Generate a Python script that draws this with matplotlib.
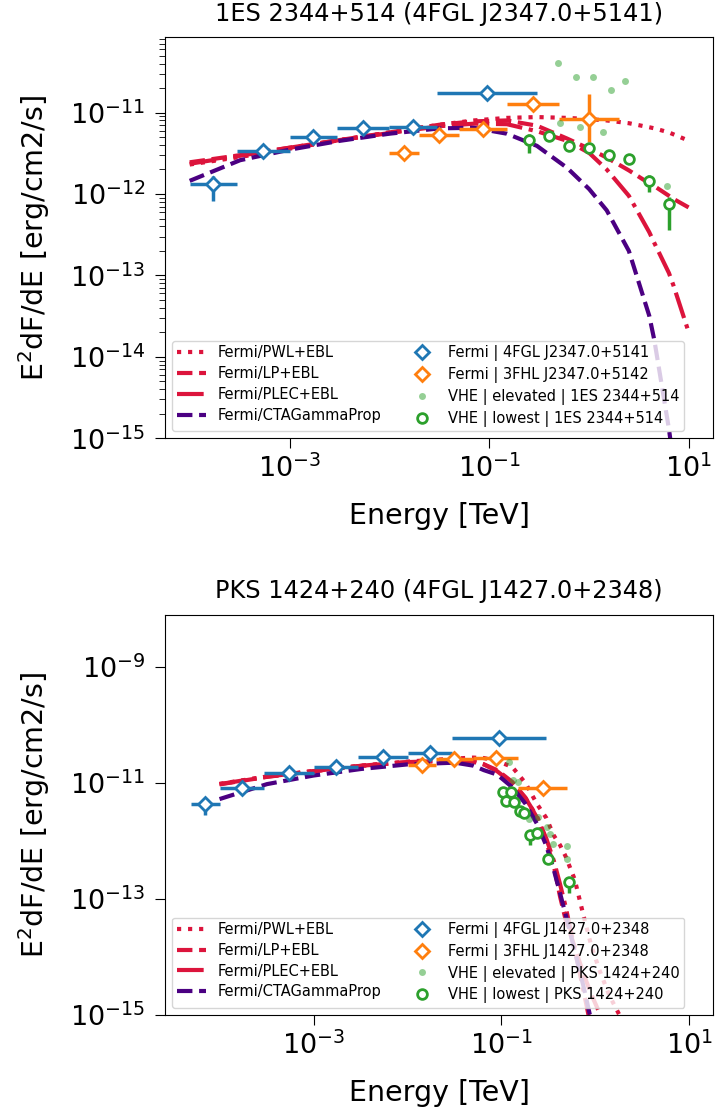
import numpy as np
import matplotlib.pyplot as plt
from matplotlib.ticker import FixedLocator, NullLocator, LogLocator

# ---------------- top panel: 1ES 2344+514 ----------------
t_title = "1ES 2344+514 (4FGL J2347.0+5141)"

t_fgl_e = [1.73e-4, 5.48e-4, 1.73e-3, 5.48e-3, 1.73e-2, 9.49e-2]
t_fgl_elo = [1e-4, 3e-4, 1e-3, 3e-3, 1e-2, 3e-2]
t_fgl_ehi = [3e-4, 1e-3, 3e-3, 1e-2, 3e-2, 3e-1]
t_fgl_f = [1.33e-12, 3.42e-12, 5.0e-12, 6.45e-12, 6.7e-12, 1.75e-11]
t_fgl_flo = [8.3e-13, 3.1e-12, 4.6e-12, 6.0e-12, 6.2e-12, 1.6e-11]
t_fgl_fhi = [1.64e-12, 3.7e-12, 5.4e-12, 6.9e-12, 7.2e-12, 1.9e-11]

t_fhl_e = [0.0141, 0.0316, 0.0866, 0.274, 1.0]
t_fhl_elo = [0.01, 0.02, 0.05, 0.15, 0.5]
t_fhl_ehi = [0.02, 0.05, 0.15, 0.5, 2.0]
t_fhl_f = [3.2e-12, 5.3e-12, 6.25e-12, 1.29e-11, 8.4e-12]
t_fhl_flo = [2.9e-12, 4.8e-12, 5.7e-12, 1.15e-11, 4.4e-12]
t_fhl_fhi = [3.5e-12, 5.8e-12, 6.8e-12, 1.45e-11, 1.7e-11]

t_elev_e = [0.485, 0.513, 0.741, 0.813, 1.087, 1.37, 1.66, 2.31, 6.03]
t_elev_f = [4.04e-11, 7.5e-12, 2.72e-11, 6.6e-12, 2.72e-11, 5.7e-12, 1.9e-11, 2.47e-11, 1.24e-12]

t_low_e = [0.249, 0.394, 0.635, 0.99, 1.57, 2.49, 3.94, 6.25]
t_low_f = [4.63e-12, 5.2e-12, 3.83e-12, 3.66e-12, 3.03e-12, 2.68e-12, 1.43e-12, 7.6e-13]
t_low_flo = [3.2e-12, 4.8e-12, 3.5e-12, 3.35e-12, 2.75e-12, 2.45e-12, 1.07e-12, 3.6e-13]
t_low_fhi = [5.4e-12, 5.6e-12, 4.15e-12, 3.95e-12, 3.3e-12, 2.9e-12, 1.72e-12, 9.3e-13]

t_mod_e = [1e-4, 3.2e-4, 1e-3, 3.2e-3, 1e-2, 3.2e-2, 0.07, 0.15, 0.3, 0.6,
           1.0, 1.5, 2.5, 4.0, 4.5, 6.3, 7.0, 10.0]
t_pwl = [2.3e-12, 2.85e-12, 3.6e-12, 4.6e-12, 5.7e-12, 7.1e-12, 8.0e-12, 8.6e-12, 8.8e-12, 8.6e-12,
         8.3e-12, 8.0e-12, 7.4e-12, 6.6e-12, 6.4e-12, 5.7e-12, 5.4e-12, 4.5e-12]
t_lp = [2.45e-12, 3.0e-12, 3.7e-12, 4.6e-12, 5.7e-12, 7.1e-12, 7.8e-12, 8.0e-12, 6.9e-12, 4.8e-12,
        3.6e-12, 2.8e-12, 1.95e-12, 1.35e-12, 1.25e-12, 9.5e-13, 8.7e-13, 6.8e-13]
t_plec = [2.35e-12, 2.95e-12, 3.7e-12, 4.6e-12, 5.6e-12, 6.8e-12, 7.3e-12, 7.2e-12, 5.9e-12, 4.5e-12,
          3.2e-12, 2.0e-12, 9.5e-13, 3.4e-13, 2.5e-13, 1.07e-13, 7.5e-14, 1.96e-14]
t_cta = [1.45e-12, 2.6e-12, 3.5e-12, 4.5e-12, 5.5e-12, 6.4e-12, 6.5e-12, 5.5e-12, 3.9e-12, 2.1e-12,
         1.15e-12, 6.3e-13, 2.0e-13, 3.2e-14, 1.6e-14, 1.3e-15, 5e-16, np.nan]

# ---------------- bottom panel: PKS 1424+240 ----------------
b_title = "PKS 1424+240 (4FGL J1427.0+2348)"

b_fgl_e = [7.07e-5, 1.73e-4, 5.48e-4, 1.73e-3, 5.48e-3, 1.73e-2, 9.49e-2]
b_fgl_elo = [5e-5, 1e-4, 3e-4, 1e-3, 3e-3, 1e-2, 3e-2]
b_fgl_ehi = [1e-4, 3e-4, 1e-3, 3e-3, 1e-2, 3e-2, 3e-1]
b_fgl_f = [4.3e-12, 8.3e-12, 1.51e-11, 1.91e-11, 2.77e-11, 3.25e-11, 5.9e-11]
b_fgl_flo = [2.8e-12, 7.6e-12, 1.42e-11, 1.82e-11, 2.65e-11, 3.1e-11, 5.5e-11]
b_fgl_fhi = [5.0e-12, 9.0e-12, 1.6e-11, 2.0e-11, 2.9e-11, 3.4e-11, 6.3e-11]

b_fhl_e = [0.0141, 0.0316, 0.0866, 0.274]
b_fhl_elo = [0.01, 0.02, 0.05, 0.15]
b_fhl_ehi = [0.02, 0.05, 0.15, 0.5]
b_fhl_f = [2.04e-11, 2.57e-11, 2.7e-11, 8.1e-12]
b_fhl_flo = [1.9e-11, 2.4e-11, 2.55e-11, 7.3e-12]
b_fhl_fhi = [2.2e-11, 2.75e-11, 2.9e-11, 9.0e-12]

b_elev_e = [0.119, 0.131, 0.149, 0.194, 0.242, 0.305, 0.326, 0.350, 0.50, 0.50]
b_elev_f = [2.3e-11, 1.13e-11, 1.06e-11, 2.4e-12, 2.6e-12, 1.75e-12, 1.3e-12, 8.8e-13, 8.2e-13, 5.0e-13]

b_low_e = [0.104, 0.112, 0.126, 0.137, 0.156, 0.172, 0.200, 0.239, 0.309, 0.526]
b_low_f = [7.1e-12, 5.0e-12, 7.1e-12, 4.8e-12, 3.24e-12, 3.0e-12, 1.28e-12, 1.37e-12, 4.9e-13, 1.95e-13]
b_low_flo = [6.5e-12, 4.6e-12, 6.5e-12, 4.4e-12, 2.95e-12, 2.7e-12, 8.5e-13, 1.2e-12, 4.2e-13, 1.26e-13]
b_low_fhi = [7.7e-12, 5.4e-12, 7.7e-12, 5.2e-12, 3.5e-12, 3.3e-12, 1.45e-12, 1.55e-12, 5.7e-13, 2.45e-13]

b_mod_e = [1e-4, 3.2e-4, 1e-3, 3.2e-3, 1e-2, 3.2e-2, 0.05, 0.065, 0.09, 0.13, 0.18, 0.24,
           0.3, 0.36, 0.42, 0.48, 0.6, 0.75, 0.9, 1.1, 1.4, 1.8, 2.2]
b_pwl = [9.7e-12, 1.3e-11, 1.62e-11, 2.0e-11, 2.35e-11, 2.65e-11, 2.75e-11, 2.7e-11, 2.4e-11, 1.9e-11,
         1.0e-11, 4.3e-12, 2.5e-12, 1.25e-12, 8.5e-13, 5.5e-13, 2.2e-13, 5.0e-14, 1.6e-14, 6e-15,
         2.2e-15, 1e-15, 5e-16]
b_lp = [9.5e-12, 1.28e-11, 1.6e-11, 1.98e-11, 2.3e-11, 2.45e-11, 2.35e-11, 2.1e-11, 1.67e-11, 1.05e-11,
        5.6e-12, 2.5e-12, 9.5e-13, 3.8e-13, 1.1e-13, 4.5e-14, 1.5e-14, 5e-15, 2.3e-15, 1.1e-15,
        4e-16, np.nan, np.nan]
b_plec = [9.6e-12, 1.29e-11, 1.61e-11, 1.99e-11, 2.3e-11, 2.45e-11, 2.35e-11, 2.1e-11, 1.6e-11, 1.0e-11,
          5.5e-12, 2.6e-12, 1.1e-12, 4.6e-13, 1.8e-13, 7.5e-14, 1.4e-14, 2.5e-15, 6e-16, np.nan,
          np.nan, np.nan, np.nan]
b_cta = [5.3e-12, 9.6e-12, 1.35e-11, 1.75e-11, 2.1e-11, 2.25e-11, 2.0e-11, 1.67e-11, 1.4e-11, 8.5e-12,
         4.4e-12, 1.95e-12, 8.3e-13, 3.2e-13, 1.26e-13, 5.5e-14, 1.3e-14, 3e-15, 8e-16, np.nan,
         np.nan, np.nan, np.nan]

plt.rcParams["font.family"] = "DejaVu Sans"

fig = plt.figure(figsize=(7.15, 11.13), dpi=100)
ax1 = fig.add_axes([0.2308, 0.6062, 0.7664, 0.3603])
ax2 = fig.add_axes([0.2308, 0.0880, 0.7664, 0.3594])


def yerr(f, lo, hi):
    f = np.array(f)
    return [f - np.array(lo), np.array(hi) - f]


def draw(ax, title, mod_e, pwl, lp, plec, cta, fgl, fhl, elev, low, names):
    handles = []
    handles += ax.plot(mod_e, pwl, ls=":", color="crimson", lw=3, label="Fermi/PWL+EBL")
    handles += ax.plot(mod_e, lp, ls="--", color="crimson", lw=3, label="Fermi/LP+EBL")
    handles += ax.plot(mod_e, plec, ls="-.", color="crimson", lw=3, label="Fermi/PLEC+EBL")
    handles += ax.plot(mod_e, cta, ls="--", color="indigo", lw=3, label="Fermi/CTAGammaProp")

    for (e, elo, ehi, f, flo, fhi), c in zip([fgl, fhl], ["tab:blue", "tab:orange"]):
        e = np.array(e)
        eb = ax.errorbar(e, f, xerr=[e - np.array(elo), np.array(ehi) - e],
                         yerr=yerr(f, flo, fhi), fmt="D", color=c, mfc="white", mec=c,
                         ms=7, mew=2, elinewidth=2.5, capsize=0)
        handles.append(eb.lines[0])
    handles += ax.plot(elev[0], elev[1], "o", color="tab:green", alpha=0.5, ms=5, mew=0)
    eb = ax.errorbar(low[0], low[1], yerr=yerr(low[1], low[2], low[3]), fmt="o",
                     color="tab:green", mfc="white", mec="tab:green", ms=7, mew=2,
                     elinewidth=2.5, capsize=0)
    handles.append(eb.lines[0])

    ax.set_xscale("log")
    ax.set_yscale("log")
    ax.set_title(title, fontsize=17.3, pad=12)
    ax.set_xlabel("Energy [TeV]", fontsize=20.5, labelpad=14)
    ax.set_ylabel("E$^2$dF/dE [erg/cm2/s]", fontsize=20.5, labelpad=13)
    ax.tick_params(labelsize=19.5)
    ax.tick_params(axis="y", pad=7)
    ax.tick_params(axis="x", pad=4.5)
    ax.tick_params(which="major", length=7)
    ax.tick_params(which="minor", length=4)
    ax.xaxis.set_major_locator(FixedLocator([1e-3, 1e-1, 1e1]))
    ax.xaxis.set_minor_locator(NullLocator())
    labels = ["Fermi/PWL+EBL", "Fermi/LP+EBL", "Fermi/PLEC+EBL", "Fermi/CTAGammaProp"] + names
    ax.legend(handles, labels, loc="lower left", ncol=2, fontsize=10.5, columnspacing=1.8,
              labelspacing=0.4, borderpad=0.3)


draw(ax1, t_title, t_mod_e, t_pwl, t_lp, t_plec, t_cta,
     (t_fgl_e, t_fgl_elo, t_fgl_ehi, t_fgl_f, t_fgl_flo, t_fgl_fhi),
     (t_fhl_e, t_fhl_elo, t_fhl_ehi, t_fhl_f, t_fhl_flo, t_fhl_fhi),
     (t_elev_e, t_elev_f), (t_low_e, t_low_f, t_low_flo, t_low_fhi),
     ["Fermi | 4FGL J2347.0+5141", "Fermi | 3FHL J2347.0+5142",
      "VHE | elevated | 1ES 2344+514", "VHE | lowest | 1ES 2344+514"])
ax1.set_xlim(5.66e-5, 17.4)
ax1.set_ylim(1e-15, 8.4e-11)
ax1.yaxis.set_major_locator(FixedLocator([1e-15, 1e-14, 1e-13, 1e-12, 1e-11]))
ax1.yaxis.set_minor_locator(LogLocator(base=10, subs=np.arange(2, 10), numticks=20))

draw(ax2, b_title, b_mod_e, b_pwl, b_lp, b_plec, b_cta,
     (b_fgl_e, b_fgl_elo, b_fgl_ehi, b_fgl_f, b_fgl_flo, b_fgl_fhi),
     (b_fhl_e, b_fhl_elo, b_fhl_ehi, b_fhl_f, b_fhl_flo, b_fhl_fhi),
     (b_elev_e, b_elev_f), (b_low_e, b_low_f, b_low_flo, b_low_fhi),
     ["Fermi | 4FGL J1427.0+2348", "Fermi | 3FHL J1427.0+2348",
      "VHE | elevated | PKS 1424+240", "VHE | lowest | PKS 1424+240"])
ax2.set_xlim(2.63e-5, 17.8)
ax2.set_ylim(1e-15, 7.9e-9)
ax2.yaxis.set_major_locator(FixedLocator([1e-15, 1e-13, 1e-11, 1e-9]))
ax2.yaxis.set_minor_locator(NullLocator())

fig.savefig("out.png", dpi=100)
